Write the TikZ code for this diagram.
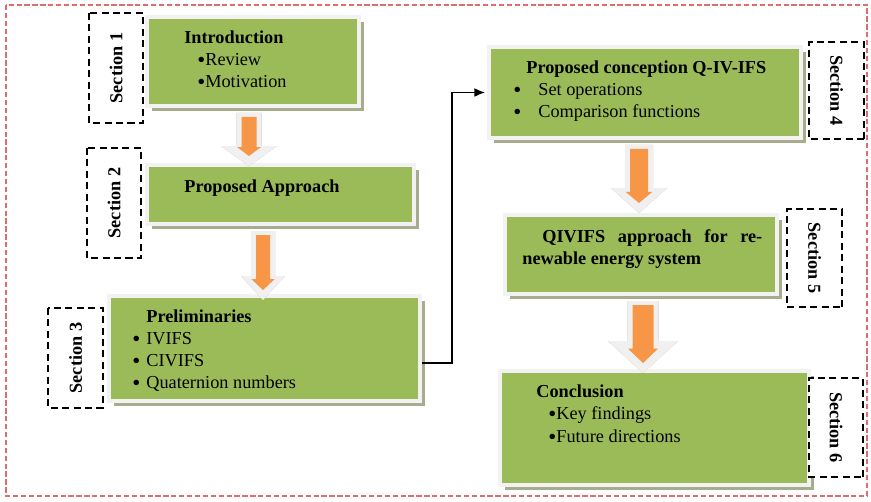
\documentclass[tikz,border=0pt]{standalone}
\usepackage{fontspec}
\setmainfont{Liberation Serif}
\usepackage{tikz}
\usetikzlibrary{arrows.meta, calc, shadows, positioning}
\definecolor{boxgreen}{HTML}{9BBB59}
\definecolor{boxframe}{HTML}{F2F2F2}
\definecolor{boxshadow}{HTML}{A7AD8C}
\definecolor{arroworange}{HTML}{F79646}
\definecolor{arrowframe}{HTML}{F0F0F0}
\definecolor{arrowshadow}{HTML}{C9A37E}
\definecolor{borderred}{HTML}{E06C6C}

\newcommand{\figfont}{\fontsize{10.4}{12.5}\selectfont}
\newcommand{\bigdot}{\raisebox{-0.3ex}{\fontsize{13}{12.5}\selectfont •}}
\newdimen\pxu
\pxu=0.02cm

% block arrow: #1 top, #2 tip, #3 shaft half width, #4 head half width, #5 head length (px)
\newcommand{\blockarrow}[5]{%
  \begin{scope}[xshift=0.06cm, yshift=-0.06cm]
    \fill[arrowshadow] let \p1=(#1), \p2=(#2) in
      ({\x1-(#3+5)*\pxu},\y1) -- ({\x1+(#3+5)*\pxu},\y1)
      -- ({\x1+(#3+5)*\pxu},{\y2+#5*\pxu}) -- ({\x1+#4*\pxu},{\y2+#5*\pxu})
      -- (\x1,\y2) -- ({\x1-#4*\pxu},{\y2+#5*\pxu})
      -- ({\x1-(#3+5)*\pxu},{\y2+#5*\pxu}) -- cycle;
  \end{scope}
  \fill[arrowframe] let \p1=(#1), \p2=(#2) in
    ({\x1-(#3+5)*\pxu},\y1) -- ({\x1+(#3+5)*\pxu},\y1)
    -- ({\x1+(#3+5)*\pxu},{\y2+#5*\pxu}) -- ({\x1+#4*\pxu},{\y2+#5*\pxu})
    -- (\x1,\y2) -- ({\x1-#4*\pxu},{\y2+#5*\pxu})
    -- ({\x1-(#3+5)*\pxu},{\y2+#5*\pxu}) -- cycle;
  \fill[arroworange] let \p1=(#1), \p2=(#2) in
    ({\x1-#3*\pxu},{\y1-4*\pxu}) -- ({\x1+#3*\pxu},{\y1-4*\pxu})
    -- ({\x1+#3*\pxu},{\y2+(10+0.45*#5)*\pxu}) -- ({\x1+(#3+4.5)*\pxu},{\y2+(10+0.45*#5)*\pxu})
    -- (\x1,{\y2+10*\pxu}) -- ({\x1-(#3+4.5)*\pxu},{\y2+(10+0.45*#5)*\pxu})
    -- ({\x1-#3*\pxu},{\y2+(10+0.45*#5)*\pxu}) -- cycle;
}

\tikzset{
  stepbox/.style={draw=boxframe, line width=0.08cm, fill=boxgreen, inner sep=0pt,
    drop shadow={shadow xshift=0.1cm, shadow yshift=-0.1cm, fill=boxshadow, opacity=1}},
  secbox/.style={draw=black, line width=1.1pt, dash pattern=on 4pt off 2.5pt,
    fill=white, inner sep=0pt, font=\figfont\bfseries},
  headtxt/.style={anchor=base west, inner sep=0pt, font=\figfont\bfseries},
  itemtxt/.style={anchor=base west, inner sep=0pt, font=\figfont},
}

\begin{document}
\begin{tikzpicture}[x=0.02cm, y=-0.02cm]
  \useasboundingbox (0,0) rectangle (871,501);

  % Outer frame
  \draw[borderred, line width=0.6pt, dash pattern=on 3pt off 1.5pt] (6,5) rectangle (867,496);

  % Green section boxes
  \node[stepbox, minimum width=4.24cm, minimum height=1.78cm] (box1) at (253,61.5) {};
  \node[stepbox, minimum width=5.34cm, minimum height=1.18cm] (box2) at (280.5,194.5) {};
  \node[stepbox, minimum width=6.22cm, minimum height=2.10cm] (box3) at (264.5,348.5) {};
  \node[stepbox, minimum width=6.24cm, minimum height=1.82cm] (box4) at (645,92.5) {};
  \node[stepbox, minimum width=5.44cm, minimum height=1.58cm] (box5) at (641,254.5) {};
  \node[stepbox, minimum width=6.18cm, minimum height=2.28cm] (box6) at (654.5,428) {};

  % Section tags
  \node[secbox, rotate=90, minimum width=2.2cm, minimum height=1.08cm] (sec1) at (116,68) {Section 1};
  \node[secbox, rotate=90, minimum width=2.2cm, minimum height=1.08cm] (sec2) at (114,203) {Section 2};
  \node[secbox, rotate=90, minimum width=2.0cm, minimum height=1.1cm] (sec3) at (75.5,358) {Section 3};
  \node[secbox, rotate=-90, minimum width=1.94cm, minimum height=1.1cm] (sec4) at (836.5,90.5) {Section 4};
  \node[secbox, rotate=-90, minimum width=1.96cm, minimum height=1.1cm] (sec5) at (814.5,258) {Section 5};
  \node[secbox, rotate=-90, minimum width=1.98cm, minimum height=1.08cm] (sec6) at (836,427.5) {Section 6};

  % Box texts
  \node[headtxt] (intro-h) at (184,43) {Introduction};
  \node[itemtxt] (intro-1) at (197,65) {\bigdot Review};
  \node[itemtxt] (intro-2) at (197,87) {\bigdot Motivation};

  \node[headtxt] (appr-h) at (184,192) {Proposed Approach};

  \node[headtxt] (prel-h) at (146,322) {Preliminaries};
  \node[itemtxt] (prel-1) at (132,344) {\makebox[0.28cm][l]{\bigdot}IVIFS};
  \node[itemtxt] (prel-2) at (132,366) {\makebox[0.28cm][l]{\bigdot}CIVIFS};
  \node[itemtxt] (prel-3) at (132,388) {\makebox[0.28cm][l]{\bigdot}Quaternion numbers};

  \node[headtxt] (conc-h) at (526,73) {Proposed conception Q-IV-IFS};
  \node[itemtxt] (conc-1) at (513,95) {\makebox[0.5cm][l]{\bigdot}Set operations};
  \node[itemtxt] (conc-2) at (513,117) {\makebox[0.5cm][l]{\bigdot}Comparison functions};

  \node[headtxt] (qiv-h) at (542,242) {\makebox[4.4cm][s]{QIVIFS approach for re-}};
  \node[headtxt] (qiv-h2) at (522,264) {newable energy system};

  \node[headtxt] (end-h) at (536,397) {Conclusion};
  \node[itemtxt] (end-1) at (548,419) {\bigdot Key findings};
  \node[itemtxt] (end-2) at (548,442) {\bigdot Future directions};

  % Block arrows between the boxes
  \coordinate[xshift=-0.08cm, yshift=-0.1cm] (a1-top) at (box1.south);
  \coordinate[yshift=-0.06cm] (a1-tip) at (a1-top |- box2.north);
  \blockarrow{a1-top}{a1-tip}{7.5}{28}{20}

  \coordinate[xshift=-0.35cm, yshift=-0.1cm] (a2-top) at (box2.south);
  \coordinate[yshift=-0.12cm] (a2-tip) at (a2-top |- box3.north);
  \blockarrow{a2-top}{a2-tip}{7}{22}{24}

  \coordinate[xshift=-0.12cm, yshift=-0.1cm] (a3-top) at (box4.south);
  \coordinate (a3-tip) at (a3-top |- box5.north);
  \blockarrow{a3-top}{a3-tip}{9}{28}{25}

  \coordinate[xshift=0.04cm, yshift=-0.1cm] (a4-top) at (box5.south);
  \coordinate[yshift=-0.08cm] (a4-tip) at (a4-top |- box6.north);
  \blockarrow{a4-top}{a4-tip}{10.5}{35}{32}

  % Link from the left column to the right column
  \draw[line width=0.8pt, -{Latex[length=6pt,width=5pt]}, shorten >=0.04cm]
    ([yshift=-0.29cm]box3.east) -| ([xshift=-0.7cm]box4.west) -- (box4.west);
\end{tikzpicture}
\end{document}
